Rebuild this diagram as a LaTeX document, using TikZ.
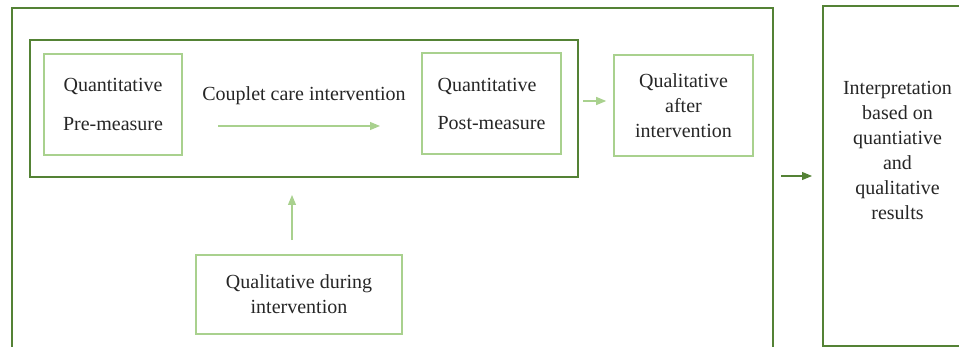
\documentclass[tikz,border=0pt]{standalone}
\usepackage{fontspec}
\setmainfont{Liberation Serif}
\usetikzlibrary{arrows.meta}
\definecolor{darkgr}{HTML}{548235}
\definecolor{lightgr}{HTML}{A9D18E}
\definecolor{txtgray}{HTML}{262626}
\begin{document}
\begin{tikzpicture}[x=1pt,y=-1pt,
    every node/.style={font=\fontsize{20pt}{25pt}\selectfont,text=txtgray,inner sep=0pt},
    outerbox/.style={draw=darkgr,line width=2pt},
    innerbox/.style={draw=lightgr,line width=1.6pt},
    arr/.style={draw=lightgr,line width=1.1pt,-{Triangle[length=10pt,width=8pt]}},
    darr/.style={draw=darkgr,line width=1.1pt,-{Triangle[length=10pt,width=8pt]}}]
    \useasboundingbox (0,0) rectangle (959,347);
    \clip (0,0) rectangle (959,347);
    % frames
    \node[outerbox,minimum width=761pt,minimum height=352pt] (outer) at (392.5,184) {};
    \node[outerbox,minimum width=548pt,minimum height=137pt] (inner) at (304,108.5) {};
    \node[outerbox,minimum width=150pt,minimum height=340pt] (interp) at (898,176) {};
    % boxes
    \node[innerbox,minimum width=138pt,minimum height=101pt,align=center] (pre) at (113,104.5)
        {Quantitative\\[14pt]Pre-measure};
    \node[innerbox,minimum width=139pt,minimum height=101pt,align=left] (post) at (491.5,103.5)
        {Quantitative\\[13pt]Post-measure};
    \node[innerbox,minimum width=139pt,minimum height=101pt,align=center] (after) at (683.5,105.5)
        {Qualitative\\after\\intervention};
    \node[innerbox,minimum width=206pt,minimum height=79pt,align=center] (during) at (299,294.5)
        {Qualitative during\\intervention};
    \node[align=center] (interptxt) at (897.5,150.5)
        {Interpretation\\based on\\quantiative\\and\\qualitative\\results};
    \node (couplet) at (304,96) {Couplet care intervention};
    % arrows
    \coordinate (cstart) at (218,126);
    \coordinate (cend) at (380,126);
    \draw[arr] (cstart) -- (cend);
    \draw[arr] ([xshift=4pt]inner.east |- 0,101) -- ([xshift=-7pt]after.west |- 0,101);
    \draw[arr] ([xshift=-7pt,yshift=14pt]during.north) -- ([xshift=-7pt,yshift=-17pt]during.north |- inner.south);
    \draw[darr] ([xshift=7pt]outer.east |- interp.west) -- ([xshift=-10pt]interp.west);
\end{tikzpicture}
\end{document}
